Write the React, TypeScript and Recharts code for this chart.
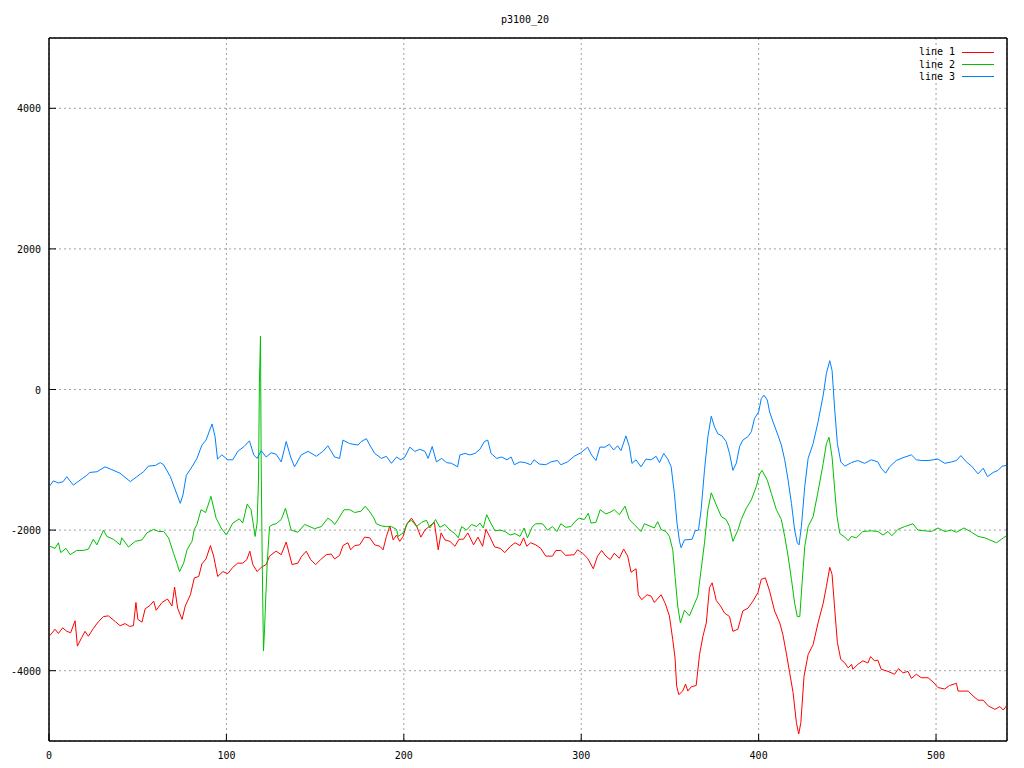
import { LineChart, Line, XAxis, YAxis, CartesianGrid, ReferenceArea } from "recharts";

// values (x, value)
const xTicks = [0, 100, 200, 300, 400, 500];
const yTicks = [-4000, -2000, 0, 2000, 4000];

const line1: [number, number][] = [
  [0.5, -3500], [3.4, -3410], [5.3, -3470], [7.7, -3390], [10, -3440], [12.2, -3460],
  [14.7, -3290], [16, -3650], [18.4, -3530], [20.3, -3440], [22.2, -3510], [25, -3400],
  [27.9, -3300], [30.7, -3230], [33.5, -3220], [37.3, -3300], [40.1, -3360], [42.9, -3330],
  [45.4, -3370], [47.6, -3360], [49, -3030], [50.1, -3270], [52.4, -3310], [54.2, -3120],
  [57, -3070], [59, -3010], [60.4, -3140], [63.7, -3030], [66.8, -2980], [69.3, -3080],
  [70.8, -2810], [72.5, -3110], [75, -3270], [76.8, -3080], [79.7, -2920], [81.9, -2680],
  [84.4, -2660], [86.2, -2480], [88.5, -2410], [91, -2220], [92.8, -2370], [95.1, -2660],
  [98, -2590], [100.8, -2620], [103.6, -2530], [106.4, -2470], [109.2, -2470], [111.5, -2420],
  [113.2, -2300], [114.9, -2490], [117.3, -2590], [119.6, -2530], [122.4, -2490], [124.3, -2370],
  [128, -2300], [130.9, -2350], [133.7, -2170], [137, -2490], [140.3, -2470], [142.2, -2380],
  [145, -2300], [147.5, -2420], [150.3, -2490], [153.1, -2420], [156.3, -2350], [159.1, -2340],
  [161, -2410], [163.8, -2360], [165.7, -2220], [168.5, -2180], [170, -2280], [172.3, -2220],
  [175.1, -2210], [177.9, -2100], [180.8, -2110], [183.6, -2210], [186.5, -2230], [188.3, -2280],
  [190.2, -2090], [192.1, -1940], [194, -2140], [195.9, -2070], [197.7, -2160], [199.6, -2090],
  [201.5, -1920], [204.3, -1830], [207.2, -1940], [209.6, -2100], [211.9, -2000], [214.7, -1940],
  [217.2, -1890], [219.4, -2280], [221, -2040], [223.2, -2140], [226, -2160], [228.8, -2230],
  [231.1, -2130], [233.6, -2130], [236.1, -2040], [239.3, -2210], [241.8, -2100], [244.4, -2230],
  [246.3, -1990], [248.8, -2110], [251.2, -2240], [254.4, -2260], [256.9, -2320], [260.1, -2230],
  [262.7, -2180], [265.5, -2220], [267.5, -2110], [269.3, -2230], [271.5, -2180], [274.4, -2210],
  [277.2, -2260], [280, -2370], [283.8, -2370], [285.7, -2290], [288.5, -2290], [291.3, -2360],
  [296, -2350], [297.9, -2280], [300.8, -2330], [303.6, -2400], [306.8, -2550], [309.2, -2370],
  [311.5, -2290], [313.9, -2370], [316.4, -2420], [318.6, -2330], [321.5, -2400], [323.9, -2270],
  [326.2, -2370], [328.1, -2600], [330.9, -2550], [332.2, -2920], [334.1, -2990], [337.1, -2920],
  [339.4, -2940], [341.2, -3030], [345, -2920], [347.3, -3040], [349.7, -3220], [351.6, -3560],
  [352.9, -3820], [353.8, -4220], [355, -4340], [357.2, -4290], [358.8, -4190], [360.1, -4290],
  [362, -4230], [364.8, -4210], [366.7, -3770], [368.6, -3510], [370.5, -3320], [372.3, -2820],
  [373.8, -2750], [376.1, -3000], [378.5, -3080], [380.8, -3180], [383.6, -3230], [385.5, -3440],
  [388.3, -3410], [391.1, -3150], [394, -3110], [396.8, -3010], [399.6, -2890], [401.5, -2700],
  [403.8, -2680], [406.2, -2870], [409, -3150], [411.9, -3320], [413.7, -3490], [415.6, -3750],
  [417.5, -4030], [419.4, -4310], [421.3, -4740], [422.6, -4900], [423.8, -4740], [425.6, -4080],
  [427.9, -3770], [430.7, -3630], [433.5, -3320], [436.4, -3040], [438.2, -2800], [440.1, -2530],
  [441.4, -2630], [442.9, -3130], [444.4, -3600], [446.3, -3840], [448.6, -3890], [450.5, -3960],
  [452.4, -3910], [453.1, -3980], [455.9, -3910], [458.8, -3860], [461.6, -3890], [463.1, -3800],
  [465.3, -3860], [467.2, -3850], [469.1, -3980], [472.9, -4010], [476.6, -4050], [478.9, -3970],
  [481.4, -4030], [484.2, -4010], [486.1, -4110], [488.9, -4050], [491.7, -4100], [495.5, -4100],
  [498.3, -4160], [501.1, -4240], [504.9, -4260], [507.7, -4210], [511.5, -4180], [512.4, -4290],
  [515.3, -4290], [518.1, -4290], [520.9, -4360], [523.7, -4420], [526.6, -4420], [529.4, -4500],
  [533.2, -4550], [536, -4510], [537.9, -4560], [539.7, -4500],
];

const line2: [number, number][] = [
  [0.5, -2230], [3.4, -2260], [5.3, -2180], [6.6, -2320], [9.6, -2260], [11.9, -2350],
  [15.6, -2290], [19.4, -2290], [22.2, -2270], [25, -2130], [27, -2210], [30.7, -2000],
  [32.6, -2090], [36.3, -2130], [40.1, -2210], [41, -2110], [44.8, -2240], [48.6, -2160],
  [52.4, -2140], [55.2, -2040], [59, -1990], [61.8, -2020], [64.6, -2020], [67.4, -2110],
  [70.2, -2330], [72.1, -2470], [73.6, -2590], [75.9, -2470], [77.8, -2280], [80.6, -2160],
  [81.9, -1990], [83.4, -1920], [85.7, -1710], [88.3, -1750], [91.3, -1520], [94.2, -1830],
  [97, -1970], [100, -2070], [103.6, -1900], [107.3, -1840], [109.2, -1900], [111.7, -1630],
  [113.9, -1710], [116.2, -2090], [117.3, -1900], [118.1, -1290], [118.6, 90], [119.2, 760],
  [119.6, -1050], [120.2, -2470], [120.9, -3720], [121.5, -3410], [122, -3080], [123, -2470],
  [124.3, -1950], [126.2, -1920], [128, -1910], [130.9, -1850], [133.3, -1690], [135, -1850],
  [136.5, -2000], [140.3, -2030], [144.1, -1920], [149.7, -1980], [153.5, -1950], [157.2, -1830],
  [159.5, -1870], [161, -1920], [162.9, -1850], [166.3, -1710], [169.5, -1710], [172.3, -1750],
  [176, -1730], [178.2, -1660], [180.8, -1740], [183.2, -1830], [184.5, -1910], [187.4, -1940],
  [190.2, -1950], [193, -1950], [195.9, -1990], [196.8, -2090], [199.6, -2040], [202.4, -1890],
  [204.3, -1860], [207.2, -1950], [210, -1890], [212.8, -1860], [214.7, -1970], [217.9, -1850],
  [220.3, -1960], [223.2, -1920], [226, -2000], [228.8, -2050], [230.7, -2110], [232.6, -1950],
  [235.4, -2000], [238.2, -1920], [241.1, -1950], [242.9, -1900], [244.8, -1970], [246.7, -1780],
  [248.6, -1880], [251.4, -2010], [254.2, -2000], [257.1, -2020], [259.9, -2070], [262.7, -2050],
  [265.5, -2090], [267.8, -1970], [269.7, -2110], [272.5, -1950], [274.4, -1910], [278.2, -1910],
  [281, -2000], [283.8, -1950], [286.3, -2020], [288.5, -1910], [291.3, -1960], [294.2, -1950],
  [296.4, -1880], [298.9, -1830], [301.7, -1850], [304, -1760], [305.5, -1900], [308.3, -1890],
  [310.7, -1710], [313.9, -1770], [316.8, -1740], [318.6, -1710], [321.5, -1780], [324.7, -1660],
  [327.1, -1850], [329.9, -1920], [333.7, -2020], [335.6, -1910], [339.4, -1950], [341.2, -1970],
  [343.1, -1880], [345, -1990], [347.8, -2020], [349.7, -2090], [351.6, -2280], [352.9, -2660],
  [354.4, -3080], [355.9, -3320], [358.2, -3140], [361, -3220], [363.8, -3050], [365.7, -2940],
  [367.6, -2560], [369.5, -2180], [371.4, -1710], [373.3, -1470], [376.1, -1640], [379, -1810],
  [381.7, -1850], [383.6, -1950], [385.5, -2160], [388.3, -2000], [390.2, -1850], [393, -1690],
  [395.9, -1570], [398.7, -1380], [400.6, -1200], [401.9, -1150], [404.9, -1290], [407.2, -1480],
  [410, -1710], [412.8, -1850], [414.7, -2090], [416.6, -2370], [418.5, -2700], [420.3, -3040],
  [421.8, -3230], [423.2, -3230], [424.5, -2750], [426, -2230], [427.9, -1950], [430.7, -1810],
  [433.5, -1450], [436.4, -1050], [438.2, -770], [439.7, -680], [441.4, -960], [442.9, -1430],
  [444.2, -1810], [445.8, -2050], [448.6, -2100], [450.5, -2150], [452.2, -2090], [455, -2110],
  [458.8, -2020], [463.5, -2010], [467.2, -2020], [470.1, -2070], [472.9, -2020], [475.1, -2080],
  [478.5, -1990], [482.3, -1950], [487, -1910], [489.8, -2000], [493.6, -2010], [497.4, -2020],
  [501.1, -1970], [504.9, -2020], [508.7, -2000], [511.5, -2030], [515.8, -1970], [520, -2030],
  [523.7, -2090], [527.5, -2110], [530.3, -2140], [534.1, -2180], [536.9, -2130], [539.7, -2080],
];

const line3: [number, number][] = [
  [0.5, -1370], [2.4, -1300], [5.3, -1330], [8, -1310], [10, -1240], [13.7, -1360],
  [17.5, -1290], [21.3, -1220], [23, -1180], [27, -1170], [31.6, -1100], [35.4, -1140],
  [40, -1190], [45.8, -1310], [49.5, -1240], [53.3, -1170], [56, -1090], [60, -1080],
  [62.7, -1040], [64.6, -1070], [68.4, -1240], [71.2, -1430], [74, -1620], [75.5, -1500],
  [77.4, -1220], [80.6, -1100], [83.4, -980], [86.2, -790], [88.5, -720], [91.9, -490],
  [93.6, -670], [95, -990], [97.4, -930], [100.8, -1000], [103.6, -1000], [106.4, -880],
  [110, -810], [113, -730], [115.4, -930], [117.3, -980], [119.6, -870], [122.4, -960],
  [125.2, -900], [128, -920], [130.9, -1030], [133.7, -740], [136.2, -960], [138.4, -1100],
  [142.2, -930], [146, -880], [150.7, -950], [154.4, -880], [157.2, -800], [161, -960],
  [163.8, -980], [165.7, -720], [169.5, -770], [174.2, -790], [176, -740], [178.9, -700],
  [180.8, -790], [183.6, -910], [187.4, -980], [190.2, -950], [193, -1050], [195.9, -960],
  [198.3, -1000], [200.6, -960], [203.4, -820], [206.2, -880], [209, -850], [211.9, -880],
  [213.7, -980], [216, -810], [218.4, -1030], [221.3, -980], [224.1, -1040], [226.9, -1050],
  [230.3, -1100], [231.6, -930], [234.5, -910], [237.3, -930], [240.1, -910], [242.9, -850],
  [245.4, -740], [247.3, -720], [249.2, -910], [252.4, -980], [255.2, -960], [258.1, -1000],
  [260.5, -960], [262.3, -1070], [265.5, -1030], [268.4, -1040], [271.5, -1070], [273.4, -1000],
  [276.3, -1060], [280, -1070], [282.9, -1030], [286.6, -1010], [288.5, -1070], [292.3, -1030],
  [296, -950], [299.8, -900], [303.6, -820], [305.8, -930], [308.3, -1010], [310.5, -820],
  [313.4, -820], [315.8, -780], [318.3, -860], [320.5, -800], [322.4, -870], [325.2, -660],
  [327.1, -810], [328.6, -1050], [330.9, -1000], [333.7, -1100], [336.5, -990], [339.4, -1000],
  [342.2, -950], [344.1, -1040], [346.5, -910], [348.8, -990], [350.7, -1100], [352.5, -1480],
  [354, -1900], [355.4, -2160], [356.3, -2250], [358.2, -2140], [362.5, -2130], [364.2, -2010],
  [366.1, -2000], [367.6, -1710], [369.5, -1140], [371.4, -670], [373.3, -380], [375.1, -530],
  [377, -630], [379.3, -660], [381.7, -740], [383.6, -910], [385.5, -1150], [387.4, -1050],
  [389.3, -810], [391.1, -720], [394, -670], [395.9, -600], [397.7, -410], [400, -320],
  [401.5, -130], [403, -80], [404.9, -150], [406.2, -320], [408.1, -460], [410.9, -650],
  [412.8, -790], [414.7, -1000], [416.6, -1290], [418.5, -1620], [420.3, -2000], [421.8, -2180],
  [422.8, -2210], [424.1, -1950], [426, -1380], [427.9, -980], [430.7, -770], [433.5, -460],
  [436.4, -80], [438.2, 230], [440.1, 410], [441.4, 270], [442.9, -290], [444.4, -770],
  [446.3, -1030], [448.6, -1090], [452.3, -1040], [455.9, -1010], [459.7, -1050], [463.5, -1000],
  [467.2, -1030], [469.1, -1120], [471.6, -1190], [473.8, -1100], [477.6, -1010], [481.4, -970],
  [486.1, -930], [488.9, -1000], [491.7, -1010], [495.5, -1010], [501.1, -990], [504.9, -1050],
  [508.7, -1030], [511.5, -1010], [514, -940], [517.1, -1030], [520, -1090], [523.7, -1200],
  [526.6, -1120], [529, -1240], [532.2, -1180], [535, -1150], [537.3, -1090], [539.7, -1080],
];

const series = [
  { name: "line 1", color: "#ff0000", points: line1 },
  { name: "line 2", color: "#00c000", points: line2 },
  { name: "line 3", color: "#0080ff", points: line3 },
];

const FONT = '"DejaVu Sans Mono", monospace';

// bottom labels + inward tick marks
function BottomTick(props: any) {
  const { x, y, payload } = props;
  return (
    <g>
      <line x1={x} x2={x} y1={y} y2={y - 7} stroke="#000" />
      <text x={x} y={y + 18} textAnchor="middle" fontFamily={FONT} fontSize={10} fill="#000">
        {payload.value}
      </text>
    </g>
  );
}

function LeftTick(props: any) {
  const { x, y, payload } = props;
  return (
    <g>
      <line x1={x} x2={x + 7} y1={y} y2={y} stroke="#000" />
      <text x={x - 8} y={y + 4} textAnchor="end" fontFamily={FONT} fontSize={10} fill="#000">
        {payload.value}
      </text>
    </g>
  );
}

export default function App() {
  return (
    <div
      style={{
        position: "absolute",
        left: 0,
        top: 0,
        width: 1024,
        height: 768,
        background: "#fff",
        fontFamily: FONT,
      }}
    >
      <div
        style={{
          position: "absolute",
          left: 425,
          width: 200,
          top: 15,
          textAlign: "center",
          fontSize: 10,
          lineHeight: "10px",
        }}
      >
        p3100_20
      </div>

      <LineChart width={1024} height={768} margin={{ top: 38, right: 17, bottom: 0, left: 0 }}>
        <CartesianGrid stroke="#a0a0a0" strokeDasharray="2 3" />
        <XAxis
          dataKey="x"
          type="number"
          domain={[0, 540]}
          ticks={xTicks}
          height={27}
          tickSize={0}
          tickMargin={0}
          tick={<BottomTick />}
          axisLine={{ stroke: "#000" }}
        />
        <XAxis
          xAxisId="top"
          orientation="top"
          type="number"
          domain={[0, 540]}
          ticks={xTicks}
          height={1}
          mirror
          tickSize={7}
          tickFormatter={() => ""}
          axisLine={{ stroke: "#000" }}
          tickLine={{ stroke: "#000" }}
        />
        <YAxis
          type="number"
          domain={[-5000, 5000]}
          ticks={yTicks}
          width={49}
          tickSize={0}
          tickMargin={0}
          tick={<LeftTick />}
          axisLine={{ stroke: "#000" }}
        />
        <YAxis
          yAxisId="right"
          orientation="right"
          type="number"
          domain={[-5000, 5000]}
          ticks={yTicks}
          width={1}
          mirror
          tickSize={7}
          tickFormatter={() => ""}
          axisLine={{ stroke: "#000" }}
          tickLine={{ stroke: "#000" }}
        />
        {series.map((s) => (
          <Line
            key={s.name}
            name={s.name}
            data={s.points.map(([x, y]) => ({ x, y }))}
            dataKey="y"
            type="linear"
            stroke={s.color}
            strokeWidth={1}
            dot={false}
            activeDot={false}
            isAnimationActive={false}
          />
        ))}
        <ReferenceArea x1={0} x2={540} y1={-5000} y2={5000} fill="none" stroke="#000" ifOverflow="visible" />
      </LineChart>

      <div style={{ position: "absolute", left: 899, top: 46, fontSize: 10 }}>
        {series.map((s) => (
          <div key={s.name} style={{ display: "flex", alignItems: "center", height: 12.4 }}>
            <span style={{ width: 56, textAlign: "right", lineHeight: "12px" }}>{s.name}</span>
            <span
              style={{ display: "inline-block", width: 32, height: 1, marginLeft: 7, background: s.color }}
            />
          </div>
        ))}
      </div>
    </div>
  );
}
